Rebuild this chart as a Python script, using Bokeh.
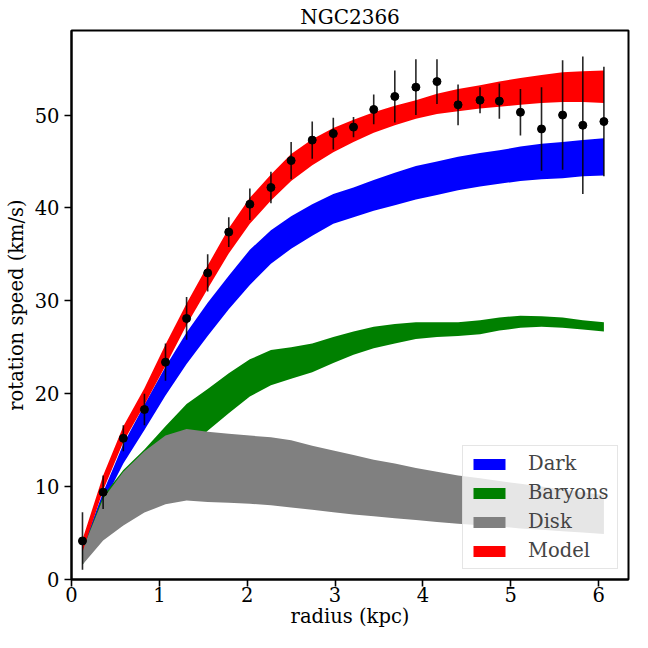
from bokeh.plotting import figure
from bokeh.models import Range1d, FixedTicker, Legend
from bokeh.embed import file_html
from bokeh.resources import INLINE

# ---- data ----
radius = [0.125, 0.36, 0.59, 0.83, 1.07, 1.31, 1.55, 1.79, 2.03, 2.27, 2.50, 2.74, 2.98,
          3.21, 3.44, 3.68, 3.92, 4.16, 4.40, 4.65, 4.87, 5.11, 5.35, 5.59, 5.82, 6.06]
v_obs = [4.15, 9.4, 15.2, 18.3, 23.4, 28.1, 33.0, 37.4, 40.4, 42.2, 45.1, 47.3, 48.0,
         48.7, 50.6, 52.0, 53.0, 53.6, 51.1, 51.6, 51.5, 50.3, 48.5, 50.0, 48.9, 49.3]
v_err = [3.1, 1.8, 1.4, 1.7, 2.0, 2.3, 2.0, 1.6, 1.7, 1.7, 2.0, 2.0, 1.7,
         1.1, 1.6, 2.8, 3.0, 2.4, 2.2, 1.4, 1.9, 2.5, 4.5, 5.9, 7.4, 5.9]

dark_lo = [2.6, 8.2, 12.5, 16.1, 19.8, 23.2, 26.2, 29.1, 31.7, 34.0, 35.6, 37.0, 38.3,
           39.0, 39.7, 40.3, 40.9, 41.4, 41.9, 42.3, 42.6, 42.9, 43.1, 43.2, 43.4, 43.5]
dark_hi = [3.4, 9.4, 14.6, 18.8, 22.9, 26.6, 29.8, 32.7, 35.5, 37.6, 39.1, 40.4, 41.5,
           42.2, 43.0, 43.8, 44.5, 45.0, 45.5, 45.9, 46.2, 46.6, 46.9, 47.1, 47.3, 47.5]

bary_lo = [1.6, 4.8, 7.3, 9.6, 11.8, 14.0, 16.0, 17.9, 19.7, 20.9, 21.6, 22.3, 23.3,
           24.2, 24.9, 25.4, 25.9, 26.1, 26.2, 26.4, 26.8, 27.1, 27.2, 27.1, 26.9, 26.7]
bary_hi = [3.2, 9.0, 11.8, 14.0, 16.5, 18.9, 20.5, 22.2, 23.7, 24.7, 25.0, 25.4, 26.1,
           26.7, 27.2, 27.5, 27.7, 27.7, 27.7, 27.9, 28.2, 28.4, 28.35, 28.2, 27.9, 27.7]

disk_lo = [1.6, 4.2, 5.8, 7.2, 8.1, 8.5, 8.35, 8.25, 8.15, 8.0, 7.75, 7.5, 7.25,
           7.0, 6.8, 6.6, 6.4, 6.2, 6.0, 5.85, 5.7, 5.5, 5.35, 5.2, 5.05, 4.9]
disk_hi = [3.2, 8.7, 11.6, 13.8, 15.5, 16.2, 15.9, 15.7, 15.5, 15.3, 15.0, 14.4, 13.9,
           13.4, 12.9, 12.5, 12.0, 11.6, 11.2, 10.9, 10.6, 10.3, 10.0, 9.7, 9.4, 9.1]

model_lo = [3.0, 9.6, 14.8, 18.8, 23.0, 27.4, 31.3, 35.1, 38.3, 40.8, 42.9, 44.6, 46.0,
            47.1, 48.1, 48.9, 49.6, 50.1, 50.4, 50.7, 50.9, 51.1, 51.3, 51.4, 51.4, 51.3]
model_hi = [4.3, 11.2, 16.5, 20.6, 25.3, 29.7, 33.8, 37.8, 41.1, 43.6, 45.8, 47.4, 48.6,
            49.5, 50.3, 51.0, 51.6, 52.3, 52.8, 53.2, 53.6, 54.0, 54.3, 54.6, 54.7, 54.8]

x_ticks = [0, 1, 2, 3, 4, 5, 6]
y_ticks = [0, 10, 20, 30, 40, 50]

FONT = "DejaVu Serif"
FS = "19.5px"

p = figure(width=632, height=632, output_backend="svg", toolbar_location=None,
           x_range=Range1d(0, 6.34), y_range=Range1d(0, 59.1),
           min_border_left=71, min_border_right=4, min_border_top=28, min_border_bottom=53)

p.title.text = "NGC2366"
p.title.text_font = FONT
p.title.text_font_size = "20px"
p.title.text_font_style = "normal"
p.title.align = "center"
p.title.text_color = "black"
p.title.standoff = 4

p.xgrid.visible = False
p.ygrid.visible = False
p.outline_line_color = "black"
p.outline_line_width = 2
p.outline_line_alpha = 1.0
p.background_fill_color = "white"
p.border_fill_color = "white"

r_dark = p.varea(x=radius, y1=dark_lo, y2=dark_hi, fill_color="#0000ff")
r_bary = p.varea(x=radius, y1=bary_lo, y2=bary_hi, fill_color="#008000")
r_disk = p.varea(x=radius, y1=disk_lo, y2=disk_hi, fill_color="#808080")
r_model = p.varea(x=radius, y1=model_lo, y2=model_hi, fill_color="#ff0000")

err_lo = [v - e for v, e in zip(v_obs, v_err)]
err_hi = [v + e for v, e in zip(v_obs, v_err)]
p.segment(x0=radius, y0=err_lo, x1=radius, y1=err_hi, line_color="black",
          line_width=1.6, line_alpha=0.85)
p.scatter(x=radius, y=v_obs, size=8, fill_color="black", line_color="black")

for ax in (p.xaxis[0], p.yaxis[0]):
    ax.axis_line_width = 2
    ax.major_tick_line_width = 1.6
    ax.major_tick_out = 7
    ax.major_tick_in = 0
    ax.minor_tick_line_color = None
    ax.major_label_text_font = FONT
    ax.major_label_text_font_size = FS
    ax.major_label_text_color = "black"
    ax.major_label_text_line_height = 1.0
    ax.axis_label_text_font = FONT
    ax.axis_label_text_font_size = FS
    ax.axis_label_text_font_style = "normal"
    ax.axis_label_text_color = "black"
    ax.axis_label_text_line_height = 1.0

p.xaxis.ticker = FixedTicker(ticks=x_ticks)
p.yaxis.ticker = FixedTicker(ticks=y_ticks)
p.xaxis.axis_label = "radius (kpc)"
p.yaxis.axis_label = "rotation speed (km/s)"
p.xaxis.major_label_standoff = 0
p.yaxis.major_label_standoff = 5
p.xaxis.axis_label_standoff = 0
p.yaxis.axis_label_standoff = 4

legend = Legend(items=[("Dark", [r_dark]), ("Baryons", [r_bary]),
                       ("Disk", [r_disk]), ("Model", [r_model])],
                location="bottom_right")
legend.margin = 10
legend.padding = 6
legend.spacing = 6
legend.glyph_width = 40
legend.glyph_height = 14
legend.label_height = 22
legend.label_width = 83
legend.label_standoff = 19
legend.label_text_font = FONT
legend.label_text_font_size = FS
legend.border_line_color = "#cccccc"
legend.border_line_width = 1
legend.background_fill_color = "white"
legend.background_fill_alpha = 0.8
p.add_layout(legend)

open("out.html", "w").write(file_html(p, INLINE))
